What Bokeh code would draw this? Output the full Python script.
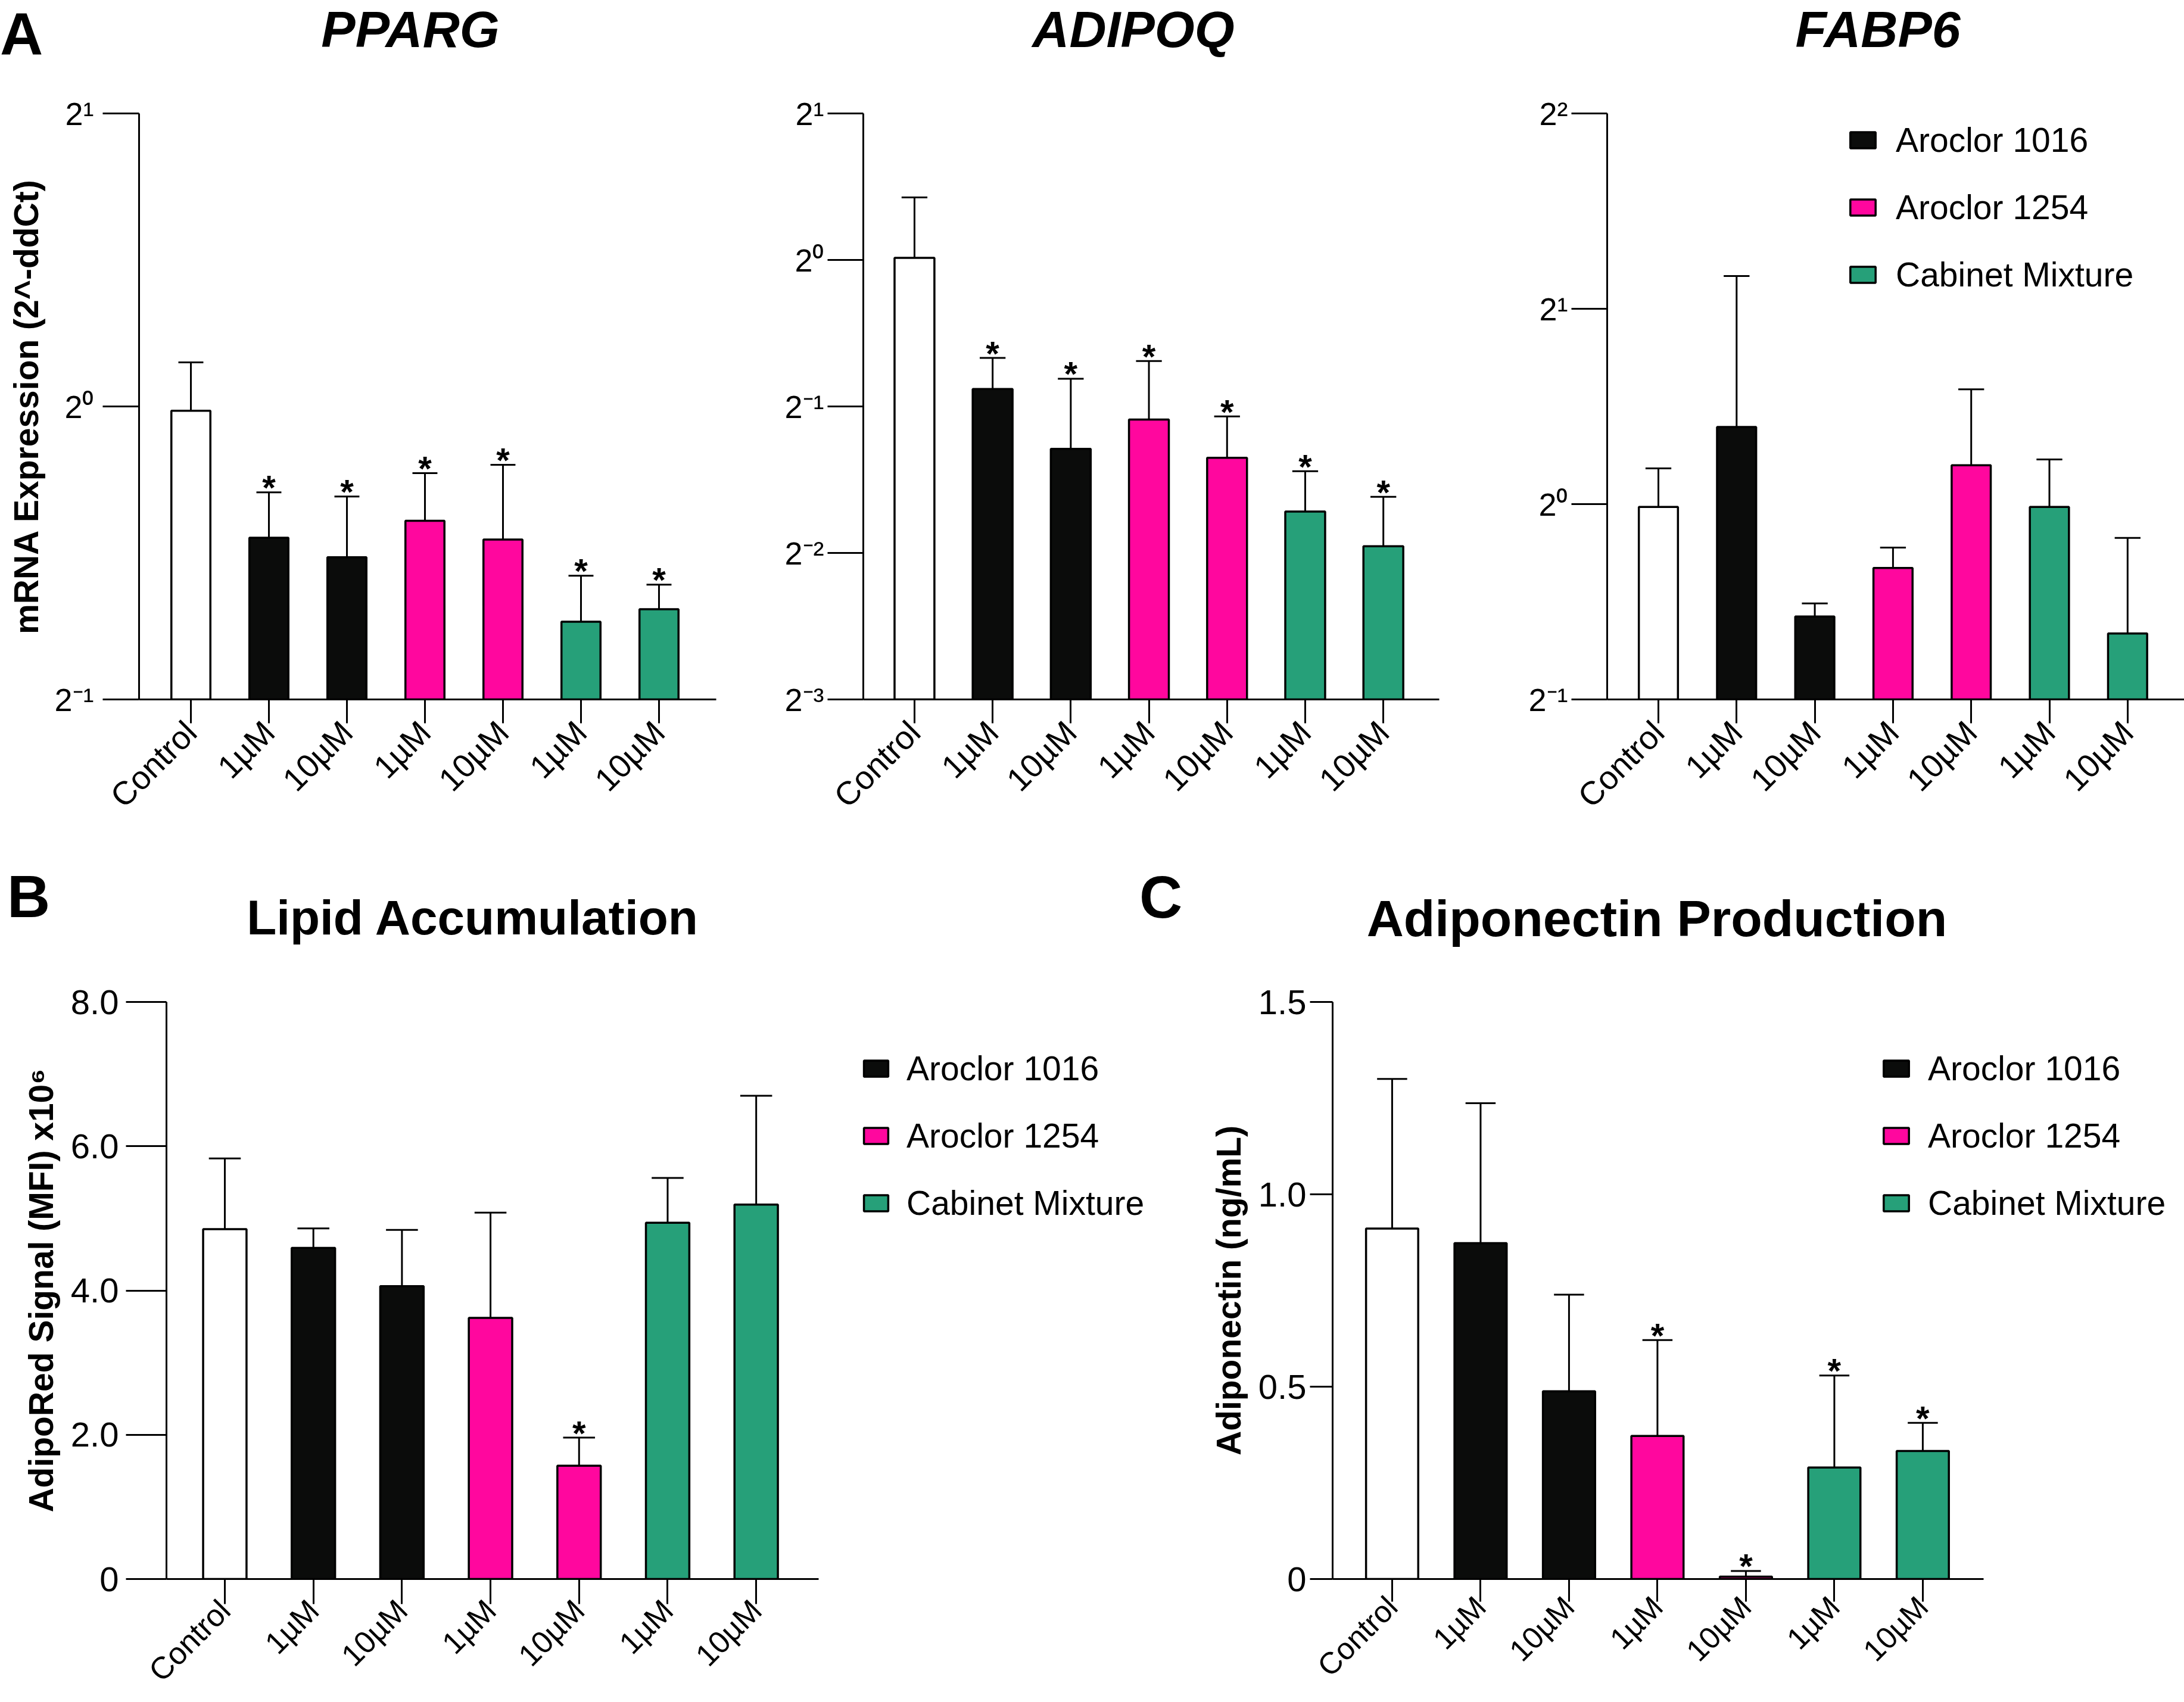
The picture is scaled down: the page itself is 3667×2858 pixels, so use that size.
import math
from bokeh.plotting import figure
from bokeh.models import Range1d, FixedTicker, Legend, LegendItem, ColumnDataSource, Div
from bokeh.layouts import row, column
from bokeh.core.properties import value
from bokeh.embed import file_html
from bokeh.resources import INLINE

# ---------------- data ----------------
categories = ["Control", "1µM", "10µM", "1µM", "10µM", "1µM", "10µM"]
groups = ["Control", "Aroclor 1016", "Aroclor 1016", "Aroclor 1254", "Aroclor 1254",
          "Cabinet Mixture", "Cabinet Mixture"]
legend_groups = ["Aroclor 1016", "Aroclor 1254", "Cabinet Mixture"]

pparg_mean = [0.99, 0.733, 0.700, 0.763, 0.730, 0.601, 0.619]
pparg_err = [1.110, 0.816, 0.808, 0.854, 0.871, 0.670, 0.656]
pparg_sig = [False, True, True, True, True, True, True]
pparg_yticks = [0.5, 1, 2]
pparg_ylabels = ["2⁻¹", "2⁰", "2¹"]

adipoq_mean = [1.010, 0.543, 0.409, 0.470, 0.392, 0.304, 0.258]
adipoq_err = [1.344, 0.629, 0.570, 0.620, 0.477, 0.368, 0.326]
adipoq_sig = [False, True, True, True, True, True, True]
adipoq_yticks = [0.125, 0.25, 0.5, 1, 2]
adipoq_ylabels = ["2⁻³", "2⁻²", "2⁻¹", "2⁰", "2¹"]

fabp6_mean = [0.990, 1.315, 0.671, 0.797, 1.148, 0.990, 0.632]
fabp6_err = [1.135, 2.247, 0.703, 0.857, 1.503, 1.172, 0.887]
fabp6_sig = [False] * 7
fabp6_yticks = [0.5, 1, 2, 4]
fabp6_ylabels = ["2⁻¹", "2⁰", "2¹", "2²"]

lipid_mean = [4.85, 4.59, 4.06, 3.62, 1.57, 4.94, 5.19]
lipid_err = [5.83, 4.86, 4.84, 5.08, 1.96, 5.56, 6.70]
lipid_sig = [False, False, False, False, True, False, False]
lipid_yticks = [0, 2, 4, 6, 8]
lipid_ylabels = ["0", "2.0", "4.0", "6.0", "8.0"]

adipo_mean = [0.911, 0.873, 0.488, 0.372, 0.006, 0.290, 0.333]
adipo_err = [1.300, 1.237, 0.739, 0.621, 0.021, 0.529, 0.406]
adipo_sig = [False, False, False, True, True, True, True]
adipo_yticks = [0, 0.5, 1.0, 1.5]
adipo_ylabels = ["0", "0.5", "1.0", "1.5"]

group_colors = {"Control": "#FFFFFF", "Aroclor 1016": "#0B0C0B",
                "Aroclor 1254": "#FF079E", "Cabinet Mixture": "#26A079"}
group_order = ["Control", "Aroclor 1016", "Aroclor 1254", "Cabinet Mixture"]

FONT = "Liberation Sans"


def panel(mean, err, sig, yticks, ylabels, *, width, height, mb, xr, yr, log,
          ytick_out, ylab_standoff, xtick_out, bar_w, cap_hw, tick_size, xlab_size,
          xlab_standoff, ylab=None, ylab_standoff_axis=12, legend=None, xbounds=None):
    p = figure(width=width, height=height, output_backend="svg", toolbar_location=None,
               x_range=Range1d(*xr), y_range=Range1d(*yr),
               y_axis_type="log" if log else "linear",
               min_border_left=mb[0], min_border_right=mb[1],
               min_border_top=mb[2], min_border_bottom=mb[3])
    p.outline_line_color = None
    p.xgrid.visible = False
    p.ygrid.visible = False
    base = yr[0]
    rends = {}
    for g in group_order:
        idx = [i for i, gg in enumerate(groups) if gg == g]
        src = ColumnDataSource(dict(x=idx, top=[mean[i] for i in idx]))
        rends[g] = p.vbar(x="x", top="top", bottom=base, width=bar_w, source=src,
                          fill_color=group_colors[g], line_color="black", line_width=3.5)
    xs = list(range(len(mean)))
    p.segment(x0=xs, y0=mean, x1=xs, y1=err, line_color="black", line_width=3)
    p.segment(x0=[x - cap_hw for x in xs], y0=err, x1=[x + cap_hw for x in xs], y1=err,
              line_color="black", line_width=3)
    sx = [i for i in xs if sig[i]]
    if sx:
        p.text(x=sx, y=[err[i] for i in sx], text=["*"] * len(sx),
               text_font=value(FONT), text_font_style="bold", text_font_size="58px",
               text_align="center", text_baseline="alphabetic", y_offset=-8,
               text_color="black")

    xa = p.xaxis[0]
    xa.ticker = FixedTicker(ticks=xs)
    xa.major_label_overrides = {i: c for i, c in enumerate(categories)}
    xa.major_label_orientation = math.pi / 4
    xa.major_tick_out = xtick_out
    xa.major_tick_in = 0
    xa.minor_tick_line_color = None
    xa.axis_line_width = 3
    xa.major_tick_line_width = 3
    xa.axis_line_color = "black"
    xa.major_tick_line_color = "black"
    xa.major_label_text_font = FONT
    xa.major_label_text_font_size = f"{xlab_size}px"
    xa.major_label_text_color = "black"
    xa.major_label_standoff = xlab_standoff
    if xbounds:
        xa.bounds = xbounds

    ya = p.yaxis[0]
    ya.ticker = FixedTicker(ticks=yticks)
    ya.major_label_overrides = dict(zip(yticks, ylabels))
    ya.major_tick_out = ytick_out
    ya.major_tick_in = 0
    ya.minor_tick_line_color = None
    ya.axis_line_width = 3
    ya.major_tick_line_width = 3
    ya.axis_line_color = "black"
    ya.major_tick_line_color = "black"
    ya.major_label_text_font = FONT
    ya.major_label_text_font_size = f"{tick_size}px"
    ya.major_label_text_color = "black"
    ya.major_label_standoff = ylab_standoff
    if ylab:
        ya.axis_label = ylab
        ya.axis_label_text_font = FONT
        ya.axis_label_text_font_style = "bold"
        ya.axis_label_text_font_size = "57px"
        ya.axis_label_text_color = "black"
        ya.axis_label_standoff = ylab_standoff_axis

    if legend:
        lx, ly, gw, gh, stand = legend
        items = [LegendItem(label=g, renderers=[rends[g]]) for g in legend_groups]
        leg = Legend(items=items, location=(lx, ly), glyph_width=gw, glyph_height=gh,
                     label_standoff=stand, spacing=47, padding=0, margin=0,
                     border_line_color=None, background_fill_alpha=0,
                     label_text_font=FONT, label_text_font_size="57px",
                     label_text_color="black", label_height=66)
        p.add_layout(leg)
    return p


def strip(width, height, texts):
    spans = []
    for (t, x, baseline, size, style, centered) in texts:
        top = baseline - 0.8465 * size
        css = (f"position:absolute;left:{x}px;top:{top:.1f}px;font-size:{size}px;"
               f"font-weight:bold;font-style:{'italic' if 'italic' in style else 'normal'};"
               "line-height:1;white-space:nowrap;margin:0;padding:0;")
        if centered:
            css += "transform:translateX(-50%);"
        spans.append(f'<span style="{css}">{t}</span>')
    html = (f'<div style="position:relative;width:{width}px;height:{height}px;'
            f"font-family:'Liberation Sans',Arial,sans-serif;color:#000;\">"
            + "".join(spans) + "</div>")
    return Div(text=html, width=width, height=height, margin=0)


strip_a = strip(3667, 110, [("A", 0, 92, 100, "bold", False),
                            ("PPARG", 689, 79, 86, "bold italic", True),
                            ("ADIPOQ", 1903, 79, 86, "bold italic", True),
                            ("FABP6", 3153, 79, 86, "bold italic", True)])

pA1 = panel(pparg_mean, pparg_err, pparg_sig, pparg_yticks, pparg_ylabels,
            width=1216, height=1290, mb=(233, 14, 80, 226), xr=(-0.664, 6.733),
            yr=(0.5, 2), log=True, ytick_out=61, ylab_standoff=15, xtick_out=40,
            bar_w=0.5, cap_hw=0.16, tick_size=54, xlab_size=55, xlab_standoff=6,
            ylab="mRNA Expression (2^-ddCt)", ylab_standoff_axis=12)

pA2 = panel(adipoq_mean, adipoq_err, adipoq_sig, adipoq_yticks, adipoq_ylabels,
            width=1214, height=1290, mb=(233, 14, 80, 226), xr=(-0.655, 6.715),
            yr=(0.125, 2), log=True, ytick_out=60, ylab_standoff=6, xtick_out=40,
            bar_w=0.51, cap_hw=0.165, tick_size=54, xlab_size=55, xlab_standoff=6)

pA3 = panel(fabp6_mean, fabp6_err, fabp6_sig, fabp6_yticks, fabp6_ylabels,
            width=1237, height=1290, mb=(268, 0, 80, 226), xr=(-0.655, 6.725),
            yr=(0.5, 4), log=True, ytick_out=60, ylab_standoff=6, xtick_out=40,
            bar_w=0.5, cap_hw=0.165, tick_size=54, xlab_size=55, xlab_standoff=6,
            legend=(403, 680, 53, 34, 29))

strip_b = strip(3667, 190, [("B", 12, 140, 100, "bold", False),
                            ("Lipid Accumulation", 793, 169, 82, "bold", True),
                            ("C", 1913, 141, 100, "bold", False),
                            ("Adiponectin Production", 2782, 172, 86, "bold", True)])

pB = panel(lipid_mean, lipid_err, lipid_sig, lipid_yticks, lipid_ylabels,
           width=1960, height=1268, mb=(279, 0, 83, 203), xr=(-0.659, 10.646),
           xbounds=(-0.659, 6.705),
           yr=(0, 8), log=False, ytick_out=68, ylab_standoff=12, xtick_out=42,
           bar_w=0.49, cap_hw=0.18, tick_size=58, xlab_size=52, xlab_standoff=2,
           ylab="AdipoRed Signal (MFI) x10⁶", ylab_standoff_axis=15,
           legend=(1166, 598, 51, 34, 26))

pC = panel(adipo_mean, adipo_err, adipo_sig, adipo_yticks, adipo_ylabels,
           width=1707, height=1268, mb=(277, 0, 92, 191), xr=(-0.673, 8.957),
           xbounds=(-0.673, 6.687),
           yr=(0, 1.5), log=False, ytick_out=38, ylab_standoff=6, xtick_out=38,
           bar_w=0.59, cap_hw=0.17, tick_size=58, xlab_size=51, xlab_standoff=0,
           ylab="Adiponectin (ng/mL)", ylab_standoff_axis=15,
           legend=(920, 598, 53, 34, 27))

layout = column(strip_a, row(pA1, pA2, pA3), strip_b, row(pB, pC))
open("out.html", "w").write(file_html(layout, INLINE))
